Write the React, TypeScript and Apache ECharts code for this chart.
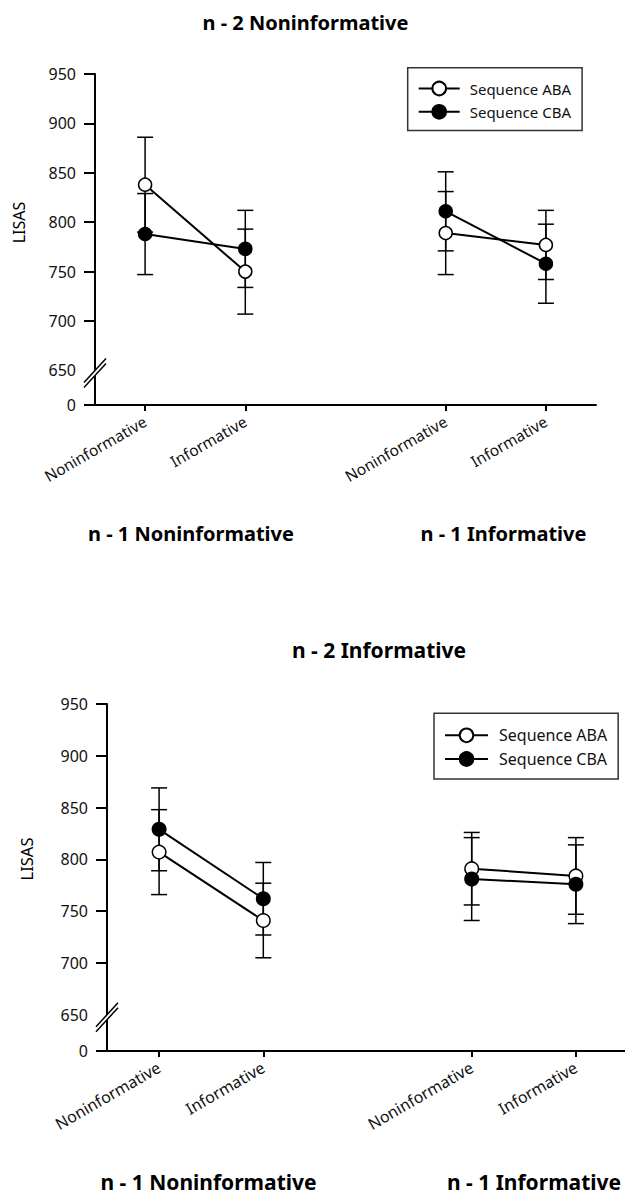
import React, { useEffect, useRef } from 'react';
import * as echarts from 'echarts';

// ---------- data ----------
const categories = ['Noninformative', 'Informative', '', 'Noninformative', 'Informative'];
const seriesNames = ['Sequence ABA', 'Sequence CBA'];

// Panel 1: n - 2 Noninformative
const topAbaMean = [838, 750, null, 789, 777];
const topAbaErr = [48, 43, null, 42, 35];
const topCbaMean = [788, 773, null, 811, 758];
const topCbaErr = [41, 39, null, 40, 40];

// Panel 2: n - 2 Informative
const botAbaMean = [807, 741, null, 791, 784];
const botAbaErr = [41, 36, null, 35, 37];
const botCbaMean = [829, 762, null, 781, 776];
const botCbaErr = [40, 35, null, 40, 38];

const yTickValues = [700, 750, 800, 850, 900, 950];
const yLabelValues = [650, 700, 750, 800, 850, 900, 950];
const Y_MAX = 950;
const BREAK_BASE = 615; // position of the "0" below the axis break
const BREAK_VALUE = 650;

const panelTitles = ['n - 2 Noninformative', 'n - 2 Informative'];
const groupTitles = ['n - 1 Noninformative', 'n - 1 Informative'];
const yAxisName = 'LISAS';

// ---------- layout ----------
const FONT = 'Noto Sans';
const GRIDS = [
  { left: 95, right: 29, top: 74, bottom: 792 },
  { left: 107, right: -3, top: 704, bottom: 146 },
];

function errData(mean: (number | null)[], err: (number | null)[]) {
  const out: number[][] = [];
  mean.forEach((m, i) => {
    if (m == null || err[i] == null) return;
    out.push([i, m - (err[i] as number), m + (err[i] as number)]);
  });
  return out;
}

function errRender(capHalf: number) {
  return (params: any, api: any) => {
    const x = api.value(0);
    const lo = api.coord([x, api.value(1)]);
    const hi = api.coord([x, api.value(2)]);
    const style = { stroke: '#000', lineWidth: 1.5 };
    return {
      type: 'group',
      children: [
        { type: 'line', shape: { x1: hi[0], y1: hi[1], x2: lo[0], y2: lo[1] }, style },
        { type: 'line', shape: { x1: hi[0] - capHalf, y1: hi[1], x2: hi[0] + capHalf, y2: hi[1] }, style },
        { type: 'line', shape: { x1: lo[0] - capHalf, y1: lo[1], x2: lo[0] + capHalf, y2: lo[1] }, style },
      ],
    };
  };
}

function xAxis(gridIndex: number, fontSize: number, margin: number) {
  return {
    type: 'category',
    gridIndex,
    data: categories,
    boundaryGap: true,
    axisLine: { show: true, onZero: false, lineStyle: { color: '#000', width: 2 } },
    axisTick: {
      show: true,
      alignWithLabel: true,
      interval: (i: number) => i !== 2,
      length: 6,
      lineStyle: { color: '#000', width: 2 },
    },
    axisLabel: { interval: 0, rotate: 30, fontSize, margin, color: '#111', fontFamily: FONT },
    splitLine: { show: false },
  };
}

function yAxis(gridIndex: number) {
  return {
    type: 'value',
    gridIndex,
    min: BREAK_BASE,
    max: Y_MAX,
    axisLine: { show: true, lineStyle: { color: '#000', width: 2 } },
    axisTick: {
      show: true,
      length: 11,
      lineStyle: { color: '#000', width: 2 },
      customValues: [BREAK_BASE, ...yTickValues],
    },
    axisLabel: {
      customValues: [BREAK_BASE, ...yLabelValues],
      formatter: (v: number) => (v === BREAK_BASE ? '0' : String(v)),
      fontSize: 16,
      margin: 19,
      color: '#111',
      fontFamily: FONT,
    },
    splitLine: { show: false },
  };
}

function lineSeries(name: string, data: (number | null)[], idx: number, open: boolean, size: number) {
  return {
    type: 'line',
    name,
    xAxisIndex: idx,
    yAxisIndex: idx,
    data,
    connectNulls: false,
    symbol: 'circle',
    symbolSize: size,
    lineStyle: { color: '#000', width: 2 },
    itemStyle: { color: open ? '#fff' : '#000', borderColor: '#000', borderWidth: 1.5 },
    emphasis: { disabled: true },
    z: 3,
  };
}

function errSeries(data: number[][], idx: number, capHalf: number) {
  return {
    type: 'custom',
    xAxisIndex: idx,
    yAxisIndex: idx,
    coordinateSystem: 'cartesian2d',
    encode: { x: 0, y: [1, 2] },
    data,
    renderItem: errRender(capHalf),
    silent: true,
    z: 1,
  };
}

function legend(left: number, top: number, padding: number[], itemWidth: number, fontSize: number, textPad: number) {
  return {
    data: seriesNames,
    orient: 'vertical',
    left,
    top,
    padding,
    itemWidth,
    itemHeight: 17,
    itemGap: 7.7,
    borderColor: '#333',
    borderWidth: 1.5,
    selectedMode: false,
    textStyle: { fontSize, fontFamily: FONT, color: '#111', padding: [0, 0, 0, textPad] },
  };
}

function buildOption() {
  return {
    animation: false,
    backgroundColor: '#fff',
    textStyle: { fontFamily: FONT },
    grid: GRIDS.map((g) => ({ ...g, containLabel: false, outerBoundsMode: 'none' })),
    xAxis: [xAxis(0, 15.5, 15), xAxis(1, 16, 15)],
    yAxis: [yAxis(0), yAxis(1)],
    legend: [
      legend(407.7, 67.7, [13, 11, 11, 10], 41, 15, 5),
      legend(434, 713.3, [14, 11, 12, 10], 43, 16, 6),
    ],
    series: [
      errSeries(errData(topAbaMean, topAbaErr), 0, 8),
      errSeries(errData(topCbaMean, topCbaErr), 0, 8),
      lineSeries(seriesNames[0], topAbaMean, 0, true, 13),
      lineSeries(seriesNames[1], topCbaMean, 0, false, 13),
      errSeries(errData(botAbaMean, botAbaErr), 1, 8),
      errSeries(errData(botCbaMean, botCbaErr), 1, 8),
      lineSeries(seriesNames[0], botAbaMean, 1, true, 13.5),
      lineSeries(seriesNames[1], botCbaMean, 1, false, 13.5),
    ],
  };
}

function text(x: number, y: number, str: string, fontSize: number, bold: boolean, rotation = 0) {
  return {
    type: 'text',
    x,
    y,
    rotation,
    z: 100,
    silent: true,
    style: {
      text: str,
      fontSize,
      fontWeight: bold ? 'bold' : 'normal',
      fontFamily: FONT,
      fill: '#000',
      align: 'center',
      verticalAlign: 'middle',
    },
  };
}

function breakMark(cx: number, cy: number) {
  const l1 = [[cx - 11, cy + 14], [cx + 11, cy - 10]];
  const l2 = [[cx - 11, cy + 9], [cx + 11, cy - 15]];
  return [
    {
      type: 'polygon',
      z: 100,
      silent: true,
      shape: { points: [l1[0], l1[1], l2[1], l2[0]] },
      style: { fill: '#fff', stroke: null },
    },
    {
      type: 'line', z: 101, silent: true,
      shape: { x1: l1[0][0], y1: l1[0][1], x2: l1[1][0], y2: l1[1][1] },
      style: { stroke: '#000', lineWidth: 1.5 },
    },
    {
      type: 'line', z: 101, silent: true,
      shape: { x1: l2[0][0], y1: l2[0][1], x2: l2[1][0], y2: l2[1][1] },
      style: { stroke: '#000', lineWidth: 1.5 },
    },
  ];
}

function buildGraphic(chart: any) {
  const yTop = chart.convertToPixel({ yAxisIndex: 0 }, BREAK_VALUE) as number;
  const yBot = chart.convertToPixel({ yAxisIndex: 1 }, BREAK_VALUE) as number;
  return [
    text(305.5, 22, panelTitles[0], 20, true),
    text(379, 650, panelTitles[1], 21, true),
    text(191, 533, groupTitles[0], 20, true),
    text(503.5, 533, groupTitles[1], 20, true),
    text(208.5, 1182, groupTitles[0], 21, true),
    text(534, 1182, groupTitles[1], 21, true),
    text(18.5, 222.5, yAxisName, 16, false, Math.PI / 2),
    text(26, 859, yAxisName, 16.5, false, Math.PI / 2),
    ...breakMark(GRIDS[0].left, yTop + 3),
    ...breakMark(GRIDS[1].left, yBot + 3),
  ];
}

export default function App() {
  const ref = useRef<HTMLDivElement>(null);
  useEffect(() => {
    if (!ref.current) return;
    const chart = echarts.init(ref.current, null, { renderer: 'svg' });
    chart.setOption(buildOption() as any);
    chart.setOption({ graphic: buildGraphic(chart) } as any);
    return () => chart.dispose();
  }, []);
  return (
    <div
      ref={ref}
      style={{ position: 'absolute', left: 0, top: 0, width: 625, height: 1197, background: '#fff' }}
    />
  );
}
